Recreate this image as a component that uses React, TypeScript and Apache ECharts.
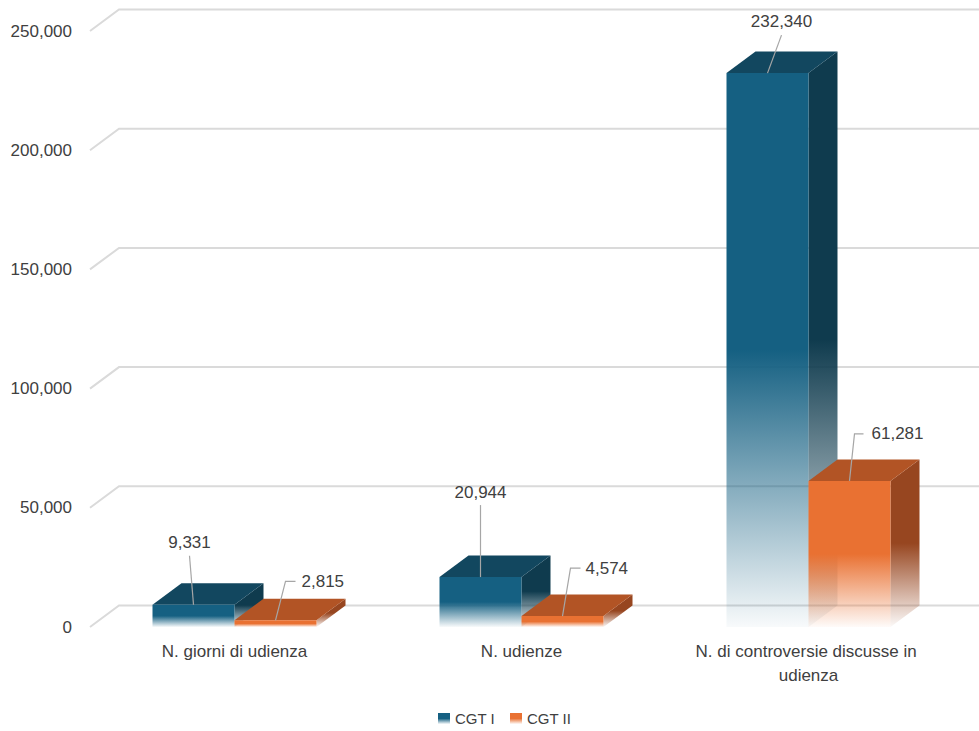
import React, { useEffect, useRef } from "react";
import * as echarts from "echarts";

const CATEGORIES = ["N. giorni di udienza", "N. udienze", "N. di controversie discusse in udienza"];
const SERIES_NAMES = ["CGT I", "CGT II"];
const CGT_I = [9331, 20944, 232340];
const CGT_II = [2815, 4574, 61281];
const Y_TICKS = [0, 50000, 100000, 150000, 200000, 250000];

// layout constants (not data)
const DX = 29;
const DY = -21.5;
const BAR_FRAC = 82 / 287;
const FONT = "'Liberation Sans', Arial, sans-serif";
const TEXT = "#404040";

// leader-line layout per bar, relative to the front-top-centre of the bar
const LEADERS_I = [
  { pts: [[-4, -49]], text: [-4, -62], align: "center" },
  { pts: [[0, -72]], text: [0, -85], align: "center" },
  { pts: [[14, -38]], text: [14, -52], align: "center" },
];
const LEADERS_II = [
  { pts: [[10, -39], [20, -39]], text: [26, -39], align: "left" },
  { pts: [[8, -48], [18, -48]], text: [23, -48], align: "left" },
  { pts: [[5, -47], [14, -47]], text: [22, -47], align: "left" },
];

const PALETTE = [
  { front: [21, 96, 130], top: "#12475F", side: [15, 59, 78] },
  { front: [233, 113, 50], top: "#B25425", side: [151, 70, 32] },
];

const rgba = (c: number[], a: number) => `rgba(${c[0]},${c[1]},${c[2]},${a})`;
const fade = (c: number[]) =>
  new echarts.graphic.LinearGradient(0, 0, 0, 1, [
    { offset: 0, color: rgba(c, 1) },
    { offset: 0.5, color: rgba(c, 1) },
    { offset: 1, color: rgba(c, 0.03) },
  ]);

function makeBarRender(s: number) {
  const pal = PALETTE[s];
  const leaders = s === 0 ? LEADERS_I : LEADERS_II;
  return (params: any, api: any) => {
    const ci = api.value(0);
    const v = api.value(1);
    const c = api.coord([ci, v]);
    const base = api.coord([ci, 0]);
    const bw = api.size([1, 0])[0] * BAR_FRAC;
    const x0 = c[0] + (s === 0 ? -bw : 0);
    const x1 = x0 + bw;
    const top = c[1];
    const bot = base[1];
    const ax = x0 + bw / 2;
    const ay = top;
    const L = leaders[params.dataIndex];
    const linePts = [[ax, ay], ...L.pts.map((p: number[]) => [ax + p[0], ay + p[1]])];
    return {
      type: "group",
      children: [
        {
          type: "polygon",
          shape: {
            points: [
              [x1, top],
              [x1 + DX, top + DY],
              [x1 + DX, bot + DY],
              [x1, bot],
            ],
          },
          style: { fill: fade(pal.side) },
        },
        {
          type: "polygon",
          shape: {
            points: [
              [x0, top],
              [x1, top],
              [x1 + DX, top + DY],
              [x0 + DX, top + DY],
            ],
          },
          style: { fill: pal.top },
        },
        {
          type: "rect",
          shape: { x: x0, y: top, width: bw, height: bot - top },
          style: { fill: fade(pal.front) },
        },
        {
          type: "polyline",
          shape: { points: linePts },
          style: { stroke: "#A6A6A6", lineWidth: 1.2, fill: "none" },
        },
        {
          type: "text",
          x: ax + L.text[0],
          y: ay + L.text[1],
          style: {
            text: Number(v).toLocaleString("en-US"),
            fill: TEXT,
            fontSize: 17,
            fontFamily: FONT,
            align: L.align,
            verticalAlign: "middle",
          },
        },
      ],
    };
  };
}

export default function App() {
  const ref = useRef<HTMLDivElement>(null);
  useEffect(() => {
    document.body.style.margin = "0";
    const chart = echarts.init(ref.current!, null, { renderer: "svg" });
    chart.setOption({
      animation: false,
      backgroundColor: "#ffffff",
      grid: { left: 91, right: 27, top: 31, bottom: 104, containLabel: false },
      legend: {
        data: SERIES_NAMES,
        left: 433,
        top: 706,
        icon: "rect",
        itemWidth: 12,
        itemHeight: 11,
        itemGap: 15,
        textStyle: { fontSize: 15, color: TEXT, fontFamily: FONT },
      },
      xAxis: {
        type: "category",
        data: CATEGORIES,
        axisLine: { show: false },
        axisTick: { show: false },
        axisLabel: {
          color: TEXT,
          fontSize: 17,
          fontFamily: FONT,
          lineHeight: 24,
          margin: 12,
          width: 240,
          overflow: "break",
          interval: 0,
        },
      },
      yAxis: {
        type: "value",
        min: 0,
        max: 250000,
        interval: 50000,
        axisLine: { show: false },
        axisTick: { show: false },
        splitLine: { show: false },
        axisLabel: {
          color: TEXT,
          fontSize: 17,
          fontFamily: FONT,
          margin: 19,
          formatter: (v: number) => v.toLocaleString("en-US"),
        },
      },
      series: [
        {
          name: "grid",
          type: "custom",
          z: 1,
          silent: true,
          clip: false,
          encode: { x: 0, y: 1 },
          data: Y_TICKS.map((t) => [0, t]),
          renderItem: (params: any, api: any) => {
            const cs = params.coordSys;
            const y = api.coord([0, api.value(1)])[1];
            return {
              type: "polyline",
              shape: {
                points: [
                  [cs.x - 1, y],
                  [cs.x + DX - 1, y + DY],
                  [cs.x + cs.width + DX, y + DY],
                ],
              },
              style: { stroke: "#DADADA", lineWidth: 2, fill: "none" },
            };
          },
        },
        {
          name: SERIES_NAMES[0],
          type: "custom",
          z: 2,
          clip: false,
          encode: { x: 0, y: 1 },
          itemStyle: { color: fade(PALETTE[0].front) },
          data: CGT_I.map((v, i) => [i, v]),
          renderItem: makeBarRender(0),
        },
        {
          name: SERIES_NAMES[1],
          type: "custom",
          z: 3,
          clip: false,
          encode: { x: 0, y: 1 },
          itemStyle: { color: fade(PALETTE[1].front) },
          data: CGT_II.map((v, i) => [i, v]),
          renderItem: makeBarRender(1),
        },
      ],
    });
    return () => chart.dispose();
  }, []);
  return (
    <div
      ref={ref}
      style={{ position: "absolute", left: 0, top: 0, width: 979, height: 731 }}
    />
  );
}
